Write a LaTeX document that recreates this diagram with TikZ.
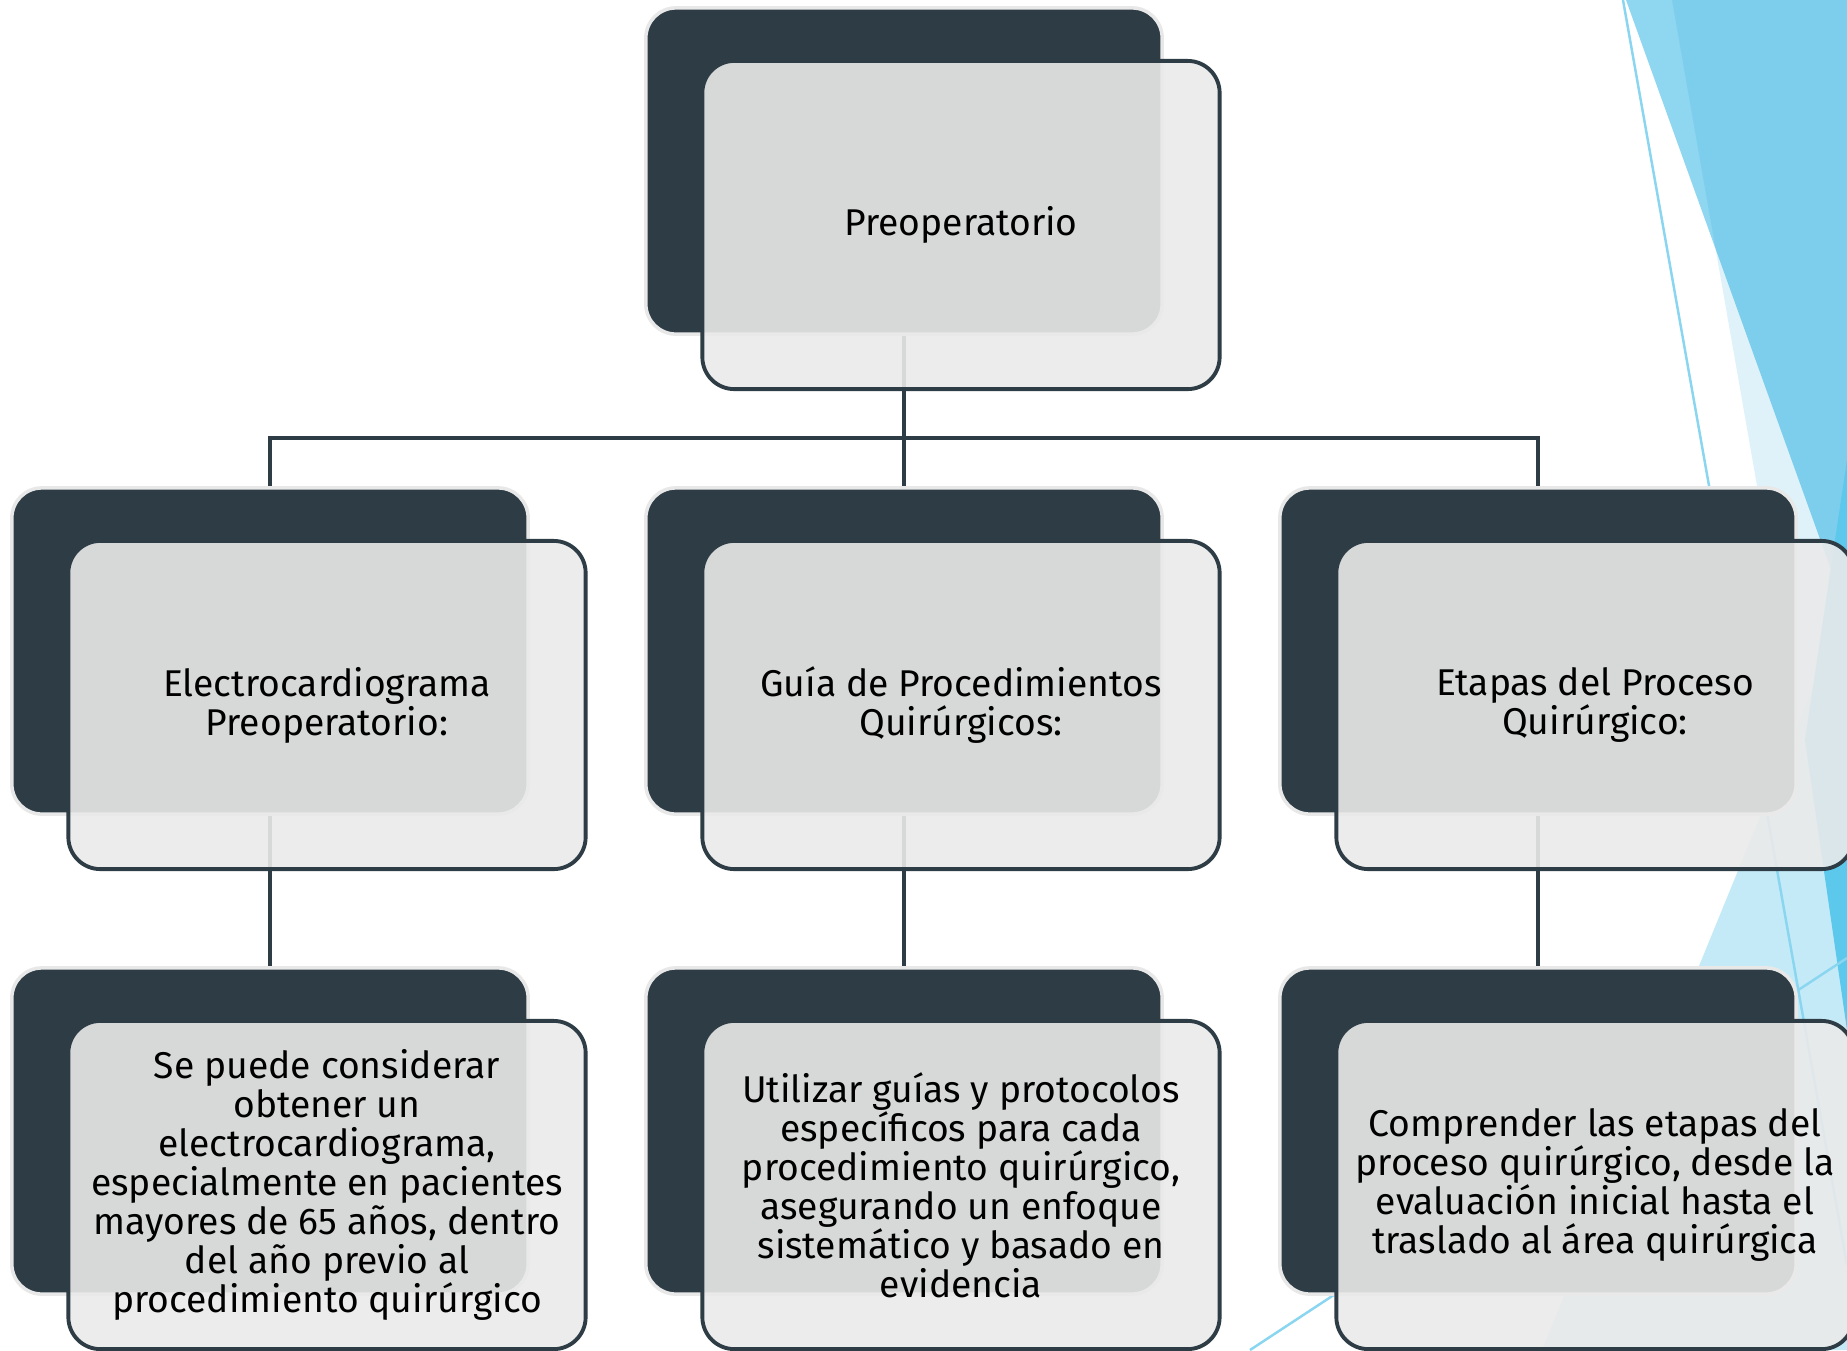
\documentclass[tikz,border=0pt]{standalone}
\usepackage{fontspec}
\setmainfont{Fira Sans}
\usepackage{tikz}

\definecolor{boxdark}{RGB}{46,61,69}
\definecolor{boxedge}{RGB}{232,232,232}
\definecolor{boxlight}{RGB}{234,234,234}
\definecolor{bluemid}{RGB}{143,214,240}
\definecolor{bluetint}{RGB}{0,155,213}
\definecolor{bluepale}{RGB}{197,234,247}
\definecolor{bluedeep}{RGB}{91,200,236}
\definecolor{blueline}{RGB}{138,213,240}

\tikzset{
	back/.style={shape=rectangle,draw=boxedge,line width=1pt,fill=boxdark,rounded corners=0.3cm,minimum width=5.16cm,minimum height=3.26cm},
	front/.style={shape=rectangle,draw=boxdark,line width=1.1pt,fill=boxlight,fill opacity=0.9,text opacity=1,rounded corners=0.32cm,minimum width=5.17cm,minimum height=3.28cm,align=center,font=\fontsize{10.6}{11.1}\selectfont},
	conn/.style={draw=boxdark,line width=1.1pt}
}

\begin{document}
\begin{tikzpicture}[x=0.01cm,y=-0.01cm]
	\useasboundingbox[fill=white] (0,0) rectangle (1847,1350);
	% background
	\fill[bluemid] (1626,0) -- (1847,0) -- (1847,614) -- cycle;
	\fill[bluetint,fill opacity=0.12] (1672,0) -- (1847,0) -- (1847,1000) -- cycle;
	\fill[bluepale] (1847,604) -- (1847,1350) -- (1542,1350) -- cycle;
	\fill[bluedeep] (1847,460) -- (1805,740) -- (1847,1030) -- cycle;
	\draw[blueline,line width=0.7pt] (1623,0) -- (1847,1265);
	\draw[blueline,line width=0.7pt] (1250,1350) -- (1847,958);

	\node[back] (pre-sh) at (904, 171) {};
	\node[back] (ecg-sh) at (270, 651) {};
	\node[back] (guia-sh) at (904, 651) {};
	\node[back] (etapa-sh) at (1538, 651) {};
	\node[back] (ecgtxt-sh) at (270, 1131) {};
	\node[back] (guiatxt-sh) at (904, 1131) {};
	\node[back] (etapatxt-sh) at (1538, 1131) {};

	\coordinate (bar) at (904, 438);
	\draw[conn] (pre-sh.south) -- (bar);
	\draw[conn] (ecg-sh.north) |- (bar) -| (etapa-sh.north);
	\draw[conn] (bar) -- (guia-sh.north);
	\draw[conn] (ecg-sh.south) -- (ecgtxt-sh.north);
	\draw[conn] (guia-sh.south) -- (guiatxt-sh.north);
	\draw[conn] (etapa-sh.south) -- (etapatxt-sh.north);

	\node[front] (pre) at (961, 225) {Preoperatorio};
	\node[front] (ecg) at (327, 705) {Electrocardiograma\\Preoperatorio:};
	\node[front] (guia) at (961, 705) {Guía de Procedimientos\\Quirúrgicos:};
	\node[front] (etapa) at (1595, 705) {Etapas del Proceso\\Quirúrgico:};
	\node[front] (ecgtxt) at (327, 1185) {Se puede considerar\\obtener un\\electrocardiograma,\\especialmente en pacientes\\mayores de 65 años, dentro\\del año previo al\\procedimiento quirúrgico};
	\node[front] (guiatxt) at (961, 1185) {Utilizar guías y protocolos\\específicos para cada\\procedimiento quirúrgico,\\asegurando un enfoque\\sistemático y basado en\\evidencia};
	\node[front] (etapatxt) at (1595, 1185) {Comprender las etapas del\\proceso quirúrgico, desde la\\evaluación inicial hasta el\\traslado al área quirúrgica};
\end{tikzpicture}
\end{document}
